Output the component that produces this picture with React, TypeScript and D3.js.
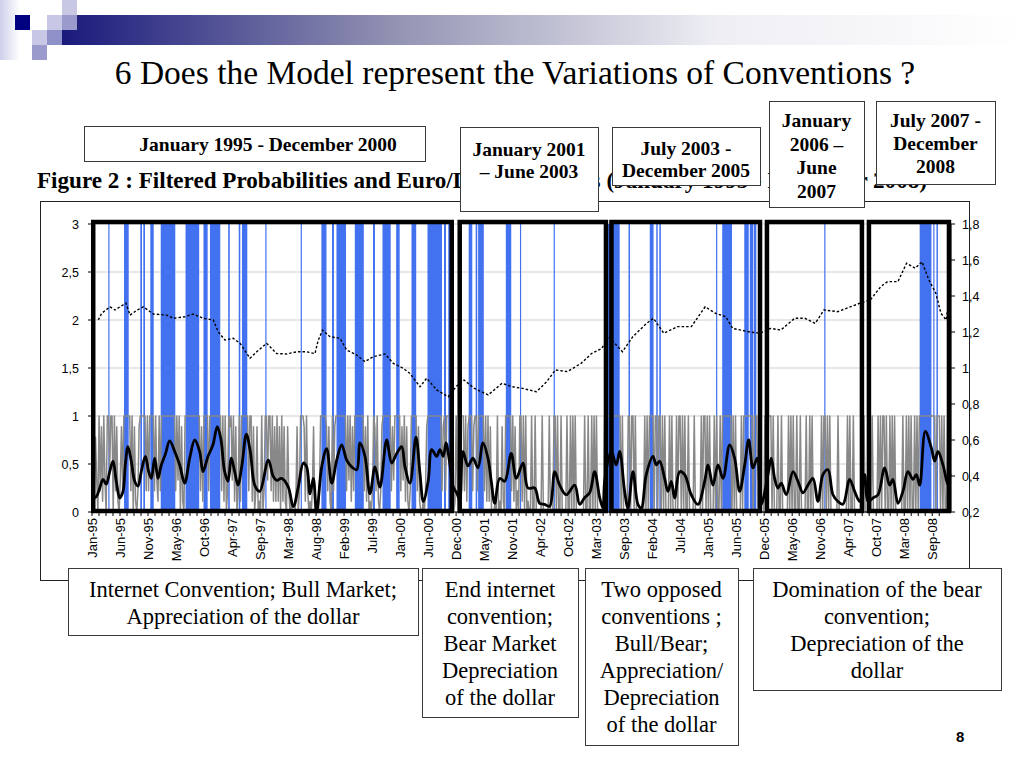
import React from 'react';
import * as d3 from 'd3';

// ---------------- DATA ----------------
const leftTicks = [0, 0.5, 1, 1.5, 2, 2.5, 3];
const leftTickLabels = ['0', '0,5', '1', '1,5', '2', '2,5', '3'];
const rightTicks = [0.2, 0.4, 0.6, 0.8, 1.0, 1.2, 1.4, 1.6, 1.8];
const rightTickLabels = ['0,2', '0,4', '0,6', '0,8', '1', '1,2', '1,4', '1,6', '1,8'];
const xTickLabels = [
  'Jan-95', 'Jun-95', 'Nov-95', 'May-96', 'Oct-96', 'Apr-97', 'Sep-97', 'Mar-98', 'Aug-98', 'Feb-99',
  'Jul-99', 'Jan-00', 'Jun-00', 'Dec-00', 'May-01', 'Nov-01', 'Apr-02', 'Oct-02', 'Mar-03', 'Sep-03',
  'Feb-04', 'Jul-04', 'Jan-05', 'Jun-05', 'Dec-05', 'May-06', 'Nov-06', 'Apr-07', 'Oct-07', 'Mar-08', 'Sep-08',
];

// regime (blue) intervals, decimal years
const regimeIntervals: [number, number][] = [
  [1995.266, 1995.281], [1995.522, 1995.599], [1995.788, 1995.816], [1995.837, 1995.865], [1995.951, 1996.007],
  [1996.121, 1996.359], [1996.526, 1996.749], [1996.819, 1996.887], [1996.925, 1997.093], [1997.222, 1997.248],
  [1997.394, 1997.42], [1997.447, 1997.534], [1997.828, 1997.845], [1998.405, 1998.42], [1998.743, 1998.826],
  [1998.916, 1998.948], [1998.989, 1999.144], [1999.288, 1999.435], [1999.585, 1999.617], [1999.74, 1999.874],
  [1999.963, 2000.02], [2000.213, 2000.29], [2000.474, 2000.711], [2000.743, 2000.776], [2000.813, 2000.853],
  [2001.146, 2001.205], [2001.26, 2001.286], [2001.3, 2001.393], [2001.752, 2001.841], [2001.983, 2002.0],
  [2002.533, 2002.55], [2003.41, 2003.61], [2003.754, 2003.778], [2004.101, 2004.163], [2004.207, 2004.231],
  [2004.257, 2004.282], [2005.183, 2005.2], [2005.283, 2005.443], [2005.643, 2005.716], [2005.733, 2005.79],
  [2005.8, 2005.84], [2006.948, 2006.963], [2008.505, 2008.697], [2008.727, 2008.746], [2008.779, 2008.803],
];

// filtered probabilities, weekly, one string per year (digit d -> d/9)
const filteredProbYears: number[] = [1995, 1996, 1997, 1998, 1999, 2000, 2001, 2002, 2003, 2004, 2005, 2006, 2007, 2008];
const filteredProbWeekly: string[] = [
  '1817 3092 8193 0994 9909 2810 3829 9999 9290 8102 8999 9929 2999',
  '9293 1929 9999 9999 9992 9390 8109 9999 9999 9999 2819 9992 9999',
  '9999 9929 1902 9893 9180 2919 9999 9299 1802 8010 9029 9399 2918',
  '1918 0918 1082 0100 0180 2999 8192 0102 8000 0299 9998 2810 9289',
  '9999 9999 2939 1829 9999 9992 8190 1029 8291 0289 9999 9928 3999',
  '9928 3918 1029 9999 2810 0102 8999 9999 9999 9289 2999 9180 1920',
  '0999 2918 9992 8992 9999 9291 9180 0010 9010 8109 9999 2918 0209',
  '9190 9010 0900 9000 0090 0000 9000 9909 0090 0009 0090 9090 0000',
  '0090 0900 9090 9000 0009 0999 9999 9999 9090 0009 9099 0900 0000',
  '0909 0999 9099 0990 9090 0090 9000 9099 0909 0090 0009 0000 0909',
  '9090 9000 9090 0909 9999 9990 9090 0009 0999 9999 9099 9090 0009',
  '9099 9090 0090 0900 0009 0909 0090 0900 0090 0909 0000 0009 0990',
  '9090 0000 0900 0000 0909 0090 0000 0099 0000 0090 0009 0909 9090',
  '0909 0900 0000 9009 0909 0090 9099 9999 9999 9999 0999 0909 0090',
];

// smoothed probability [year, value]
const smoothedProb: [number, number][] = [
  [1995.0, 0.146], [1995.07, 0.16], [1995.126, 0.25], [1995.18, 0.34], [1995.233, 0.29], [1995.289, 0.42],
  [1995.343, 0.53], [1995.396, 0.32], [1995.452, 0.146], [1995.506, 0.215], [1995.543, 0.49], [1995.587, 0.68],
  [1995.641, 0.53], [1995.697, 0.32], [1995.751, 0.27], [1995.804, 0.42], [1995.87, 0.58], [1995.925, 0.42],
  [1995.968, 0.35], [1996.023, 0.56], [1996.077, 0.35], [1996.131, 0.49], [1996.196, 0.6], [1996.268, 0.74],
  [1996.349, 0.63], [1996.431, 0.49], [1996.512, 0.3], [1996.594, 0.56], [1996.676, 0.75], [1996.757, 0.63],
  [1996.811, 0.42], [1996.893, 0.58], [1996.974, 0.7], [1997.044, 0.89], [1997.1, 0.77], [1997.165, 0.42],
  [1997.219, 0.32], [1997.273, 0.56], [1997.328, 0.42], [1997.382, 0.28], [1997.447, 0.49], [1997.518, 0.81],
  [1997.583, 0.63], [1997.655, 0.28], [1997.736, 0.215], [1997.877, 0.54], [1997.958, 0.37], [1998.014, 0.33],
  [1998.095, 0.35], [1998.203, 0.26], [1998.284, 0.055], [1998.366, 0.26], [1998.448, 0.51], [1998.503, 0.47],
  [1998.557, 0.19], [1998.611, 0.35], [1998.666, 0.0], [1998.748, 0.47], [1998.829, 0.66], [1998.911, 0.3],
  [1998.993, 0.54], [1999.074, 0.7], [1999.156, 0.54], [1999.237, 0.47], [1999.319, 0.44], [1999.373, 0.72],
  [1999.454, 0.58], [1999.536, 0.19], [1999.618, 0.47], [1999.699, 0.26], [1999.808, 0.75], [1999.89, 0.51],
  [1999.972, 0.61], [2000.053, 0.68], [2000.107, 0.47], [2000.188, 0.3], [2000.286, 0.78], [2000.352, 0.4],
  [2000.406, 0.11], [2000.487, 0.33], [2000.543, 0.65], [2000.624, 0.58], [2000.678, 0.65], [2000.732, 0.58],
  [2000.776, 0.72], [2000.83, 0.54], [2000.895, 0.26], [2000.95, 0.2], [2001.0, 0.13], [2001.053, 0.63],
  [2001.135, 0.48], [2001.216, 0.56], [2001.298, 0.46], [2001.38, 0.72], [2001.461, 0.56], [2001.515, 0.32],
  [2001.571, 0.09], [2001.652, 0.35], [2001.734, 0.32], [2001.841, 0.61], [2001.923, 0.35], [2002.032, 0.51],
  [2002.114, 0.25], [2002.223, 0.25], [2002.305, 0.09], [2002.386, 0.08], [2002.468, 0.06], [2002.55, 0.42],
  [2002.631, 0.28], [2002.739, 0.18], [2002.876, 0.28], [2002.957, 0.08], [2003.039, 0.15], [2003.12, 0.2],
  [2003.202, 0.42], [2003.284, 0.15], [2003.337, 0.04], [2003.365, 0.32], [2003.473, 0.63], [2003.554, 0.49],
  [2003.61, 0.63], [2003.691, 0.215], [2003.745, 0.04], [2003.827, 0.42], [2003.908, 0.08], [2003.962, 0.04],
  [2004.044, 0.39], [2004.153, 0.58], [2004.207, 0.49], [2004.262, 0.53], [2004.344, 0.35], [2004.398, 0.215],
  [2004.452, 0.32], [2004.507, 0.146], [2004.589, 0.42], [2004.67, 0.39], [2004.778, 0.18], [2004.887, 0.08],
  [2004.997, 0.32], [2005.051, 0.49], [2005.132, 0.28], [2005.214, 0.49], [2005.296, 0.35], [2005.405, 0.7],
  [2005.486, 0.56], [2005.568, 0.215], [2005.65, 0.49], [2005.715, 0.75], [2005.785, 0.46], [2005.855, 0.56],
  [2005.92, 0.08], [2006.03, 0.39], [2006.083, 0.56], [2006.139, 0.35], [2006.193, 0.25], [2006.247, 0.3],
  [2006.328, 0.18], [2006.438, 0.42], [2006.519, 0.32], [2006.601, 0.2], [2006.682, 0.28], [2006.764, 0.35],
  [2006.845, 0.11], [2006.927, 0.39], [2007.009, 0.44], [2007.09, 0.18], [2007.172, 0.11], [2007.253, 0.08],
  [2007.363, 0.34], [2007.444, 0.215], [2007.526, 0.11], [2007.608, 0.39], [2007.661, 0.11], [2007.743, 0.146],
  [2007.825, 0.18], [2007.934, 0.46], [2008.015, 0.28], [2008.069, 0.34], [2008.151, 0.09], [2008.232, 0.215],
  [2008.314, 0.42], [2008.396, 0.34], [2008.45, 0.39], [2008.505, 0.28], [2008.597, 0.84], [2008.695, 0.67],
  [2008.75, 0.53], [2008.804, 0.63], [2008.886, 0.49], [2008.967, 0.28], [2009.0, 0.4],
];

// euro/dollar exchange rate [year, value] (right axis)
const exchangeRate: [number, number][] = [
  [1995.103, 1.267], [1995.158, 1.304], [1995.294, 1.34], [1995.375, 1.322], [1995.457, 1.34], [1995.555, 1.36],
  [1995.62, 1.294], [1995.729, 1.32], [1995.837, 1.34], [1996.0, 1.3], [1996.219, 1.294], [1996.327, 1.276],
  [1996.517, 1.285], [1996.653, 1.3], [1996.816, 1.276], [1996.979, 1.267], [1997.061, 1.2], [1997.17, 1.155],
  [1997.305, 1.165], [1997.415, 1.137], [1997.578, 1.054], [1997.687, 1.09], [1997.85, 1.137], [1998.014, 1.08],
  [1998.177, 1.078], [1998.34, 1.09], [1998.503, 1.09], [1998.638, 1.08], [1998.692, 1.155], [1998.764, 1.21],
  [1998.883, 1.174], [1999.046, 1.165], [1999.156, 1.1], [1999.319, 1.072], [1999.454, 1.035], [1999.59, 1.063],
  [1999.781, 1.078], [1999.916, 1.026], [2000.079, 0.998], [2000.188, 0.97], [2000.352, 0.896], [2000.461, 0.943],
  [2000.624, 0.878], [2000.813, 0.84], [2000.95, 0.9], [2001.071, 0.933], [2001.239, 0.887], [2001.464, 0.85],
  [2001.69, 0.915], [2001.857, 0.896], [2002.026, 0.887], [2002.251, 0.868], [2002.419, 0.924], [2002.561, 0.989],
  [2002.757, 0.98], [2002.982, 1.026], [2003.15, 1.08], [2003.318, 1.109], [2003.431, 1.174], [2003.656, 1.09],
  [2003.824, 1.174], [2004.049, 1.248], [2004.161, 1.276], [2004.33, 1.193], [2004.555, 1.23], [2004.78, 1.23],
  [2005.005, 1.34], [2005.173, 1.304], [2005.341, 1.285], [2005.454, 1.22], [2005.735, 1.2], [2005.903, 1.193],
  [2006.072, 1.22], [2006.24, 1.211], [2006.465, 1.276], [2006.633, 1.276], [2006.801, 1.248], [2006.942, 1.322],
  [2007.167, 1.313], [2007.532, 1.36], [2007.7, 1.378], [2007.87, 1.452], [2007.981, 1.48], [2008.151, 1.48],
  [2008.291, 1.582], [2008.431, 1.554], [2008.544, 1.59], [2008.656, 1.489], [2008.769, 1.415], [2008.852, 1.304],
  [2008.937, 1.267], [2008.993, 1.396],
];

// period boxes drawn on the chart [start, end] in decimal years
const periodBoxes: [number, number][] = [
  [1995.02, 2000.87], [2001.0, 2003.386], [2003.476, 2005.9], [2006.013, 2007.563], [2007.677, 2008.983],
];

const slideTitle = '6 Does the Model represent the Variations of Conventions ?';
const figureTitle = 'Figure 2 : Filtered Probabilities and Euro/Dollar Returns (January 1995 - December 2008)';

const topBoxTexts: string[][] = [
  ['January 1995 - December 2000'],
  ['January 2001', '\u2013 June 2003'],
  ['July 2003 -', 'December 2005'],
  ['January', '2006 \u2013', 'June', '2007'],
  ['July 2007 -', 'December', '2008'],
];
const bottomBoxTexts: string[][] = [
  ['Internet Convention; Bull Market;', 'Appreciation of the dollar'],
  ['End internet', 'convention;', 'Bear Market', 'Depreciation', 'of the dollar'],
  ['Two opposed', 'conventions ;', 'Bull/Bear;', 'Appreciation/', 'Depreciation', 'of the dollar'],
  ['Domination of the bear', 'convention;', 'Depreciation of the', 'dollar'],
];

// ---------------- LAYOUT ----------------
const topBoxLayout = [
  { x: 84, y: 126, w: 341, h: 35, cx: 268, first: 151, step: 23 },
  { x: 460, y: 127, w: 138, h: 84, cx: 529, first: 156, step: 22 },
  { x: 612, y: 127, w: 148, h: 58, cx: 686, first: 155, step: 22 },
  { x: 769, y: 101, w: 95, h: 106, cx: 816.5, first: 127, step: 23.5 },
  { x: 876, y: 101, w: 119, h: 83, cx: 935.5, first: 127, step: 23 },
];
const bottomBoxLayout = [
  { x: 68, y: 568, w: 350, h: 67, first: 597 },
  { x: 422, y: 568, w: 156, h: 149, first: 597 },
  { x: 585, y: 568, w: 153, h: 177, first: 597 },
  { x: 753, y: 568, w: 248, h: 122, first: 597 },
];

const SERIF = "'Liberation Serif', 'Times New Roman', serif";
const SANS = "'Liberation Sans', Arial, sans-serif";

export default function App() {
  const x = d3.scaleLinear().domain([1995, 2009]).range([92, 950]);
  const yL = d3.scaleLinear().domain([0, 3]).range([512, 224]);
  const yR = d3.scaleLinear().domain([0.2, 1.8]).range([512, 224]);

  const grayPts: [number, number][] = [];
  filteredProbWeekly.forEach((s, i) => {
    const digits = s.replace(/\s/g, '').split('');
    digits.forEach((c, w) => grayPts.push([filteredProbYears[i] + w / digits.length, +c / 9]));
  });
  const grayPath = d3.line<[number, number]>().x(d => x(d[0])).y(d => yL(d[1]))(grayPts) || '';
  const blackPath = d3.line<[number, number]>().curve(d3.curveCatmullRom.alpha(0.5))
    .x(d => x(d[0])).y(d => yL(d[1]))(smoothedProb) || '';
  const fxPath = d3.line<[number, number]>().x(d => x(d[0])).y(d => yR(d[1]))(exchangeRate) || '';

  const labelStep = 0.457; // years between category labels (24 weekly observations)
  const labelYears = xTickLabels.map((_, i) => 1995 + i * labelStep);
  const minorTicks = d3.range(0, xTickLabels.length * 4 - 2).map(i => 1995 + (i * labelStep) / 4);

  const plotLeft = x(1995);
  const plotRight = x(2009) + 1;

  return (
    <svg width={1024} height={768} style={{ position: 'absolute', left: 0, top: 0, background: '#fff' }}
      xmlns="http://www.w3.org/2000/svg">
      <defs>
        <linearGradient id="bar" gradientUnits="userSpaceOnUse" x1={62} y1={0} x2={1024} y2={0}>
          <stop offset="0" stopColor="#1a1a7c" />
          <stop offset="0.35" stopColor="#9494b4" />
          <stop offset="0.68" stopColor="#eeeef4" />
          <stop offset="1" stopColor="#ffffff" />
        </linearGradient>
        <linearGradient id="strip" x1="0" y1="0" x2="1" y2="0">
          <stop offset="0" stopColor="#cdd0ea" />
          <stop offset="1" stopColor="#ffffff" />
        </linearGradient>
      </defs>
      <rect x={0} y={0} width={1024} height={768} fill="#fff" />

      {/* decoration */}
      <rect x={0} y={0} width={20} height={60} fill="url(#strip)" />
      <rect x={77} y={15} width={947} height={15} fill="url(#bar)" />
      <rect x={62} y={30} width={962} height={15} fill="url(#bar)" />
      <rect x={62} y={0} width={15} height={15} fill="#c8c8e4" />
      <rect x={15} y={15} width={15} height={15} fill="#000080" />
      <rect x={47} y={15} width={15} height={15} fill="#c8c8e6" />
      <rect x={62} y={15} width={15} height={15} fill="#9a9acc" />
      <rect x={32} y={30} width={15} height={15} fill="#c8c8e6" />
      <rect x={47} y={30} width={15} height={15} fill="#9090c8" />
      <rect x={32} y={45} width={15} height={15} fill="#9a9acc" />

      {/* slide title */}
      <text x={515} y={84} textAnchor="middle" fontFamily={SERIF} fontSize={33.5} fill="#000">{slideTitle}</text>

      {/* figure title (partly hidden behind the period boxes, as on the slide) */}
      <text x={37} y={188} fontFamily={SERIF} fontSize={23} fontWeight="bold" fill="#000"
        textLength={890} lengthAdjust="spacingAndGlyphs">{figureTitle}</text>

      {/* chart frame */}
      <rect x={40.5} y={201.5} width={929} height={379} fill="#fff" stroke="#222" strokeWidth={1} />

      {/* gridlines */}
      {leftTicks.map(t => (
        <line key={'g' + t} x1={plotLeft} x2={plotRight} y1={yL(t)} y2={yL(t)} stroke="#cfcfcf" strokeWidth={1} />
      ))}

      {/* regime bars */}
      {regimeIntervals.map(([a, b], i) => (
        <rect key={'b' + i} x={x(a)} y={yL(3)} width={Math.max(1.2, x(b) - x(a))} height={yL(0) - yL(3)} fill="#4272f0" />
      ))}

      {/* filtered probabilities */}
      <path d={grayPath} fill="none" stroke="#888888" strokeWidth={1.5} strokeLinejoin="round" />
      {/* smoothed probabilities */}
      <path d={blackPath} fill="none" stroke="#000" strokeWidth={2.8} strokeLinejoin="round" />
      {/* exchange rate */}
      <path d={fxPath} fill="none" stroke="#000" strokeWidth={1.4} strokeDasharray="2.5 2" />

      {/* left axis */}
      <line x1={plotLeft} x2={plotLeft} y1={yL(3)} y2={yL(0)} stroke="#000" />
      {leftTicks.map((t, i) => (
        <g key={'l' + t}>
          <line x1={plotLeft - 4} x2={plotLeft} y1={yL(t)} y2={yL(t)} stroke="#000" />
          <text x={79} y={yL(t) + 4.5} textAnchor="end" fontFamily={SANS} fontSize={12.5} fill="#000">{leftTickLabels[i]}</text>
        </g>
      ))}
      {/* right axis */}
      <line x1={plotRight} x2={plotRight} y1={yR(1.8)} y2={yR(0.2)} stroke="#000" />
      {rightTicks.map((t, i) => (
        <g key={'r' + t}>
          <line x1={plotRight} x2={plotRight + 4} y1={yR(t)} y2={yR(t)} stroke="#000" />
          <text x={962} y={yR(t) + 4.5} fontFamily={SANS} fontSize={12.5} fill="#000">{rightTickLabels[i]}</text>
        </g>
      ))}
      {/* bottom axis */}
      <line x1={plotLeft} x2={plotRight} y1={yL(0)} y2={yL(0)} stroke="#000" />
      {minorTicks.map((t, i) => (
        <line key={'m' + i} x1={x(t)} x2={x(t)} y1={yL(0)} y2={yL(0) + 4} stroke="#000" />
      ))}
      {xTickLabels.map((lab, i) => {
        const cx = x(labelYears[i]) + 4.5;
        return (
          <text key={'x' + i} transform={`translate(${cx},518) rotate(-90)`} textAnchor="end"
            fontFamily={SANS} fontSize={13} fill="#000">{lab}</text>
        );
      })}

      {/* period boxes */}
      {periodBoxes.map(([a, b], i) => (
        <rect key={'p' + i} x={x(a)} y={yL(3) - 2} width={x(b) - x(a)} height={yL(0) - yL(3) + 1}
          fill="none" stroke="#000" strokeWidth={4.5} />
      ))}

      {/* top annotation boxes */}
      {topBoxLayout.map((bx, i) => (
        <g key={'tb' + i}>
          <rect x={bx.x + 0.5} y={bx.y + 0.5} width={bx.w} height={bx.h} fill="#fff" stroke="#3a3a3a" strokeWidth={1} />
          {topBoxTexts[i].map((ln, j) => (
            <text key={j} x={bx.cx} y={bx.first + j * bx.step} textAnchor="middle"
              fontFamily={SERIF} fontSize={19.5} fontWeight="bold" fill="#000">{ln}</text>
          ))}
        </g>
      ))}

      {/* bottom annotation boxes */}
      {bottomBoxLayout.map((bx, i) => (
        <g key={'bb' + i}>
          <rect x={bx.x + 0.5} y={bx.y + 0.5} width={bx.w} height={bx.h} fill="#fff" stroke="#3a3a3a" strokeWidth={1} />
          {bottomBoxTexts[i].map((ln, j) => (
            <text key={j} x={bx.x + bx.w / 2} y={bx.first + j * 27} textAnchor="middle"
              fontFamily={SERIF} fontSize={22.5} fill="#000">{ln}</text>
          ))}
        </g>
      ))}

      {/* page number */}
      <text x={956} y={742} fontFamily={SANS} fontSize={15} fontWeight="bold" fill="#000">8</text>
    </svg>
  );
}
